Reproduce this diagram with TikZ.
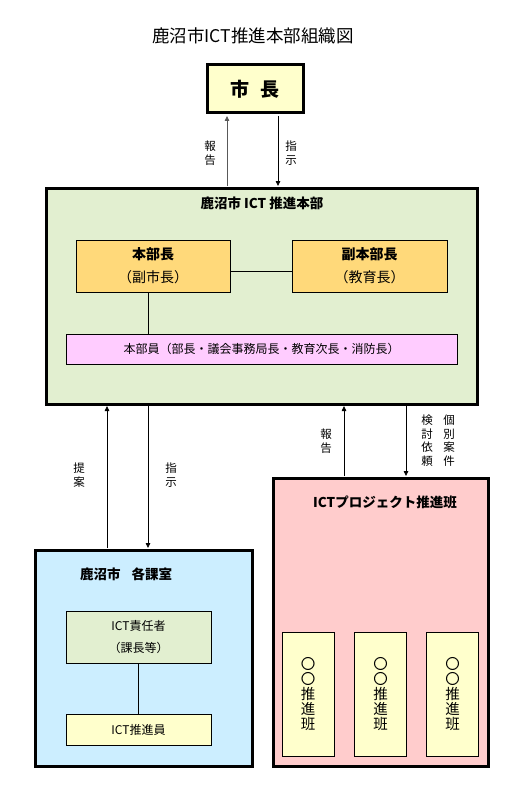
\documentclass[tikz,border=0pt]{standalone}
\usepackage{fontspec}
\setmainfont{Noto Sans CJK JP}
\usetikzlibrary{arrows.meta}
\definecolor{cyel}{HTML}{FFFFCC}
\definecolor{cgrn}{HTML}{E2EFD0}
\definecolor{corg}{HTML}{FFD97A}
\definecolor{cpnk}{HTML}{FFCCFF}
\definecolor{cred}{HTML}{FFCCCC}
\definecolor{cblu}{HTML}{CCEEFF}
\tikzset{
  bigbox/.style={draw, line width=3pt},
  smallbox/.style={draw, line width=0.8pt},
  conn/.style={line width=0.8pt},
  arr/.style={line width=0.8pt, -{Triangle[length=5pt,width=4.5pt]}},
  vlab/.style={font=\fontsize{11.5}{13.5}\selectfont, align=center, inner sep=0pt},
  btitle/.style={font=\fontsize{13.5}{16}\selectfont\bfseries, inner sep=0pt},
}
\begin{document}
\begin{tikzpicture}[x=1pt,y=-1pt]
\useasboundingbox (0,0) rectangle (531,797);
% title
\node[font=\fontsize{17.5}{20}\selectfont, inner sep=0pt] (title) at (253,36) {鹿沼市ICT推進本部組織図};
% mayor
\draw[bigbox, fill=cyel] (207,65) rectangle (303,113);
\node[font=\fontsize{19}{22}\selectfont\bfseries, inner sep=0pt] (mayor) at (255,89) {市\hspace{0.6em}長};
\coordinate (mayorB1) at (227,116);
\coordinate (mayorB2) at (278,116);
% HQ box
\draw[bigbox, fill=cgrn] (46,188) rectangle (477,404);
\node[btitle] (hqtitle) at (262,203) {鹿沼市 ICT 推進本部};
\coordinate (hqT1) at (227,186);
\coordinate (hqT2) at (278,186);
% top arrows
\draw[arr, draw=black!65] (hqT1) -- (mayorB1);
\draw[arr] (mayorB2) -- (hqT2);
\node[vlab] (lab1) at (210,153) {報\\告};
\node[vlab] (lab2) at (291,153) {指\\示};
% 本部長 / 副本部長
\node[smallbox, fill=corg, minimum width=154pt, minimum height=52pt, align=center, inner sep=0pt,
      font=\fontsize{14}{23}\selectfont] (chief) at (153,266) {\bfseries 本部長\\（副市長）};
\node[smallbox, fill=corg, minimum width=155pt, minimum height=52pt, align=center, inner sep=0pt,
      font=\fontsize{14}{23}\selectfont] (vice) at (369.5,266) {\bfseries 副本部長\\（教育長）};
\draw[conn] (chief.east |- 0,271) -- (vice.west |- 0,271);
% 本部員
\node[smallbox, fill=cpnk, minimum width=391pt, minimum height=30pt, inner sep=0pt,
      font=\fontsize{12}{14}\selectfont] (members) at (261.5,349) {本部員（部長・議会事務局長・教育次長・消防長）};
\draw[conn] (chief.south -| 148,0) -- (members.north -| 148,0);
% blue box
\draw[bigbox, fill=cblu] (35,550) rectangle (252,766);
\node[btitle, anchor=west] (deptitle) at (80,574) {鹿沼市\hspace{0.8em}各課室};
\node[smallbox, fill=cgrn, minimum width=145pt, minimum height=52pt, align=center, inner sep=0pt,
      font=\fontsize{12}{22}\selectfont] (resp) at (138.5,637) {ICT責任者\\（課長等）};
\node[smallbox, fill=cyel, minimum width=145pt, minimum height=31pt, inner sep=0pt,
      font=\fontsize{12}{14}\selectfont] (prom) at (138.5,729.5) {ICT推進員};
\draw[conn] (resp.south) -- (prom.north);
% left arrows
\coordinate (hqB1) at (107,406);
\coordinate (hqB2) at (148,406);
\coordinate (depT1) at (107,548);
\coordinate (depT2) at (148,548);
\draw[arr] (depT1) -- (hqB1);
\draw[arr] (hqB2) -- (depT2);
\node[vlab] (lab3) at (79,475) {提\\案};
\node[vlab] (lab4) at (171,475) {指\\示};
% pink box
\draw[bigbox, fill=cred] (273,478) rectangle (488,766);
\node[btitle] (pjtitle) at (385,502) {ICTプロジェクト推進班};
\foreach \i/\x in {1/308, 2/380.5, 3/452.5} {
  \node[smallbox, fill=cyel, minimum width=52pt, minimum height=124pt, align=center, inner sep=0pt,
        font=\fontsize{14.5}{15}\selectfont] (team\i) at (\x,694) {〇\\〇\\推\\進\\班};
}
% right arrows
\coordinate (hqB3) at (344,406);
\coordinate (hqB4) at (406,406);
\coordinate (pjT3) at (344,476);
\coordinate (pjT4) at (406,476);
\draw[arr] (pjT3) -- (hqB3);
\draw[arr] (hqB4) -- (pjT4);
\node[vlab] (lab5) at (326,441) {報\\告};
\node[vlab, anchor=north] (lab6) at (427,415) {検\\討\\依\\頼};
\node[vlab, anchor=north] (lab7) at (449,415) {個\\別\\案\\件};
\end{tikzpicture}
\end{document}
